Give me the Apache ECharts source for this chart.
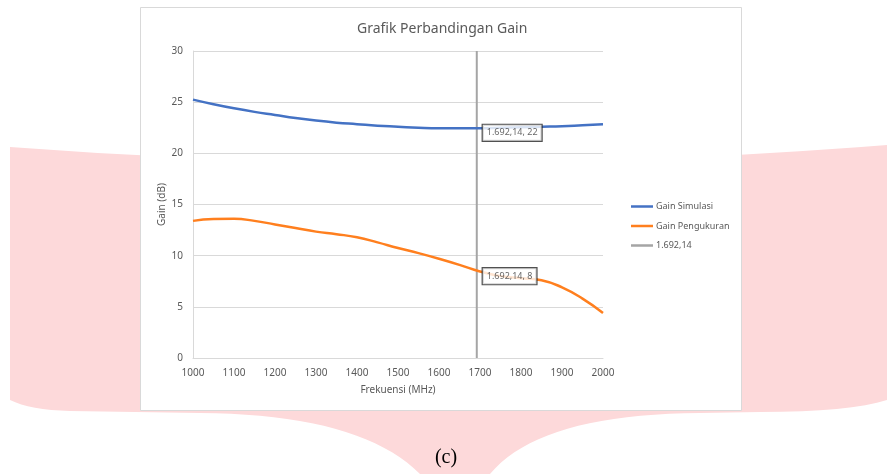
<!DOCTYPE html>
<html>
<head>
<meta charset="utf-8">
<script src="https://cdn.jsdelivr.net/npm/echarts@6/dist/echarts.min.js"></script>
<style>
  html, body { margin: 0; padding: 0; background: #fff; }
  #chart { width: 887px; height: 474px; }
</style>
</head>
<body>
<div id="chart"></div>
<script>
// frekuensi (MHz)
const freqs = [1000, 1050, 1100, 1150, 1200, 1250, 1300, 1350, 1400, 1450, 1500,
  1550, 1600, 1650, 1700, 1750, 1800, 1850, 1900, 1950, 2000];
// gain simulasi (dB)
const gainSimulasi = [25.25, 24.8, 24.4, 24.05, 23.75, 23.45, 23.2, 23.0, 22.85, 22.7, 22.6,
  22.5, 22.45, 22.45, 22.45, 22.5, 22.55, 22.6, 22.65, 22.75, 22.85];
// gain pengukuran (dB)
const gainPengukuran = [13.4, 13.58, 13.6, 13.4, 13.05, 12.7, 12.35, 12.1, 11.8, 11.3, 10.75,
  10.25, 9.7, 9.1, 8.45, 8.0, 7.8, 7.6, 6.9, 5.8, 4.4];
// garis penanda
const markerFreq = 1692.14;
const markerRange = [0, 30];
const markerGains = [22, 8];

// format angka gaya Indonesia: 1.692,14
function fmtId(v) {
  const parts = v.toFixed(2).split(".");
  const ints = parts[0].replace(/\B(?=(\d{3})+(?!\d))/g, ".");
  return ints + "," + parts[1];
}

// titik-titik kurva bezier kuadrat untuk bentuk latar
function quad(p0, c, p1, n) {
  let pts = [];
  for (let i = 0; i <= n; i++) {
    let t = i / n, u = 1 - t;
    pts.push([u * u * p0[0] + 2 * u * t * c[0] + t * t * p1[0],
              u * u * p0[1] + 2 * u * t * c[1] + t * t * p1[1]]);
  }
  return pts;
}
const bgShape = [].concat(
  quad([10, 147], [448, 180], [887, 145], 30),
  quad([887, 400], [850, 412], [760, 412], 8),
  quad([700, 413], [540, 414], [490, 474], 20),
  quad([420, 474], [360, 414], [200, 413], 20),
  quad([70, 411], [30, 410], [10, 400], 8)
);

const font = "Noto Sans";
const grey = "#595959";

let myChart = echarts.init(document.getElementById("chart"));
myChart.setOption({
  animation: false,
  textStyle: { fontFamily: font },
  graphic: [
    {
      // latar merah muda
      type: "polygon",
      z: -10,
      shape: { points: bgShape },
      style: { fill: "#fdd9da" }
    },
    {
      type: "rect",
      z: -9,
      shape: { x: 140.5, y: 7.5, width: 601, height: 403 },
      style: { fill: "#fff", stroke: "#d9d9d9", lineWidth: 1 }
    },
    {
      type: "text",
      z: 10,
      style: {
        text: "(c)", x: 446, y: 458, textAlign: "center", textVerticalAlign: "middle",
        font: '20px "Liberation Serif"', fill: "#000"
      }
    }
  ],
  title: {
    text: "Grafik Perbandingan Gain",
    left: 352,
    top: 17,
    textStyle: { fontFamily: font, fontSize: 14, fontWeight: "normal", color: grey }
  },
  legend: {
    orient: "vertical",
    left: 626,
    top: 197,
    icon: "rect",
    itemWidth: 22,
    itemHeight: 2.5,
    itemGap: 10.5,
    data: ["Gain Simulasi", "Gain Pengukuran", "1.692,14"],
    textStyle: { fontFamily: font, fontSize: 9, color: grey, padding: [0, 0, 0, -2] }
  },
  grid: { left: 193, right: 284, top: 51, bottom: 116, containLabel: false },
  xAxis: {
    type: "value",
    min: 1000,
    max: 2000,
    interval: 100,
    name: "Frekuensi (MHz)",
    nameLocation: "middle",
    nameGap: 27,
    nameTextStyle: { fontSize: 10, color: grey },
    axisLine: { show: true, lineStyle: { color: "#d9d9d9", width: 1 } },
    axisTick: { show: false },
    axisLabel: { fontSize: 10, color: grey, margin: 10, formatter: v => String(v) },
    splitLine: { show: false }
  },
  yAxis: {
    type: "value",
    min: 0,
    max: 30,
    interval: 5,
    name: "Gain (dB)",
    nameLocation: "middle",
    nameRotate: 90,
    nameGap: 26,
    nameTextStyle: { fontSize: 10, color: grey },
    axisLine: { show: true, lineStyle: { color: "#d9d9d9", width: 1 } },
    axisTick: { show: false },
    axisLabel: { fontSize: 10, color: grey, margin: 10 },
    splitLine: { lineStyle: { color: "#d9d9d9", width: 1 } }
  },
  series: [
    {
      name: "Gain Simulasi",
      type: "line",
      smooth: true,
      symbol: "none",
      lineStyle: { color: "#4472c4", width: 2.5 },
      itemStyle: { color: "#4472c4" },
      data: freqs.map((f, i) => [f, gainSimulasi[i]])
    },
    {
      name: "Gain Pengukuran",
      type: "line",
      smooth: true,
      symbol: "none",
      lineStyle: { color: "#ff7f1e", width: 2.5 },
      itemStyle: { color: "#ff7f1e" },
      data: freqs.map((f, i) => [f, gainPengukuran[i]])
    },
    {
      name: "1.692,14",
      type: "line",
      symbol: "none",
      z: 1,
      lineStyle: { color: "#a5a5a5", width: 2 },
      itemStyle: { color: "#a5a5a5" },
      data: markerRange.map(v => [markerFreq, v])
    },
    {
      name: "label",
      type: "scatter",
      symbolSize: 0,
      z: 20,
      emphasis: { disabled: true },
      data: markerGains.map(g => [markerFreq, g]),
      label: {
        show: true,
        position: "right",
        distance: 6,
        formatter: p => fmtId(p.value[0]) + ", " + Math.round(p.value[1]),
        fontFamily: font,
        fontSize: 9,
        color: "#404040",
        backgroundColor: "#ffffff",
        borderColor: "#262626",
        borderWidth: 1.2,
        padding: [4, 4, 3, 4]
      }
    }
  ]
});
</script>
</body>
</html>
